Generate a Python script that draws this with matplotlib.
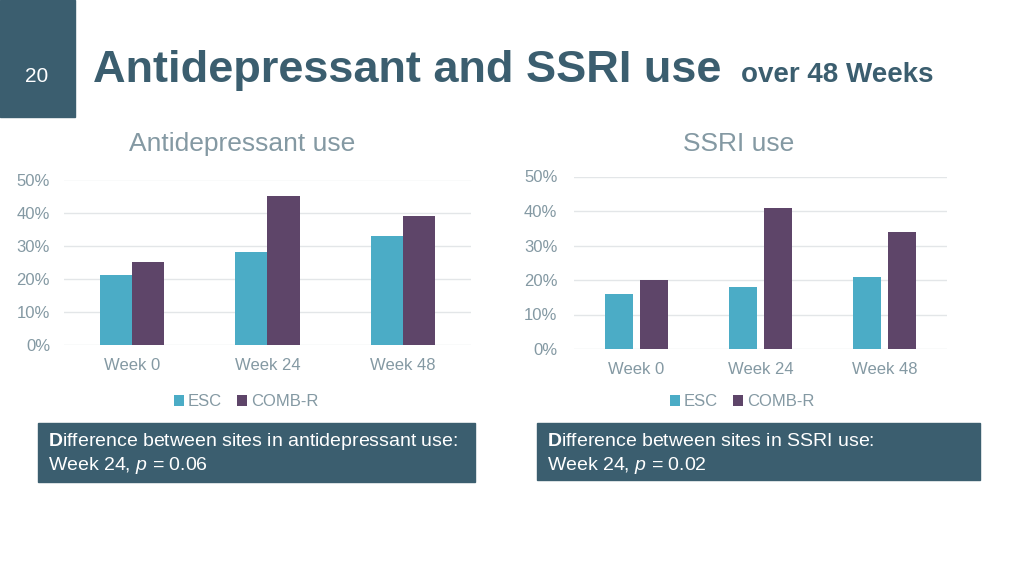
import matplotlib.pyplot as plt
import numpy as np

# data
weeks = ["Week 0", "Week 24", "Week 48"]
series = ["ESC", "COMB-R"]
anti_esc = [21, 28, 33]
anti_comb = [25, 45, 39]
ssri_esc = [16, 18, 21]
ssri_comb = [20, 41, 34]
y_ticks = [0, 10, 20, 30, 40, 50]

TEAL = "#4BACC6"
PLUM = "#5E4569"
SLATE = "#3B5E6F"
GREY = "#8499A3"

plt.rcParams["font.family"] = ["Liberation Sans", "DejaVu Sans"]
plt.rcParams["mathtext.fontset"] = "custom"
plt.rcParams["mathtext.rm"] = "Liberation Sans"
plt.rcParams["mathtext.it"] = "Liberation Sans:italic"
plt.rcParams["mathtext.bf"] = "Liberation Sans:bold"

fig = plt.figure(figsize=(10.24, 5.76), dpi=100)

# slide number block
fig.patches.append(plt.Rectangle((0, 1 - 117 / 576), 75 / 1024, 117 / 576,
                                 transform=fig.transFigure, color=SLATE))
fig.text(37 / 1024, 1 - 76 / 576, "20", color="white", fontsize=15,
         ha="center", va="center")

fig.text(93 / 1024, 1 - 82 / 576, "Antidepressant and SSRI use", color=SLATE,
         fontsize=32.5, fontweight="bold", va="baseline")
fig.text(741 / 1024, 1 - 82 / 576, "over 48 Weeks", color=SLATE,
         fontsize=20, fontweight="bold", va="baseline")


def draw(rect, esc, comb, title, title_x, bar_w, gap, ypad, leg_x):
    ax = fig.add_axes(rect)
    x = np.arange(len(weeks))
    off = bar_w / 2 + gap / 2
    ax.bar(x - off, esc, bar_w, color=TEAL, label=series[0], zorder=3)
    ax.bar(x + off, comb, bar_w, color=PLUM, label=series[1], zorder=3)
    ax.set_xlim(-0.5, len(weeks) - 0.5)
    ax.set_ylim(0, 50)
    ax.set_yticks(y_ticks)
    ax.set_yticklabels([f"{t}%" for t in y_ticks])
    ax.set_xticks(x)
    ax.set_xticklabels(weeks)
    ax.grid(axis="y", color="#E3E6E8", lw=1, zorder=0)
    for s in ax.spines.values():
        s.set_visible(False)
    ax.tick_params(length=0, colors=GREY, labelsize=12)
    ax.tick_params(axis="y", pad=ypad)
    ax.tick_params(axis="x", pad=9)
    fig.text(title_x / 1024, 1 - 144 / 576, title, color=GREY, fontsize=19,
             ha="center", va="center")
    ax.legend(loc="center", bbox_to_anchor=(leg_x / 1024, 1 - 402 / 576),
              bbox_transform=fig.transFigure, ncol=2, frameon=False,
              fontsize=12, labelcolor=GREY, handlelength=0.6,
              handleheight=0.6, handletextpad=0.25, columnspacing=0.9)
    return ax


draw([64 / 1024, 1 - 345 / 576, 407 / 1024, 165.5 / 576], anti_esc, anti_comb,
     "Antidepressant use", 242, 0.236, 0.0, 10, 246)
draw([574 / 1024, 1 - 349 / 576, 373 / 1024, 172.5 / 576], ssri_esc, ssri_comb,
     "SSRI use", 739, 0.225, 0.056, 12, 742)

# note boxes
boxes = [
    (38, 423, 437, 59, "antidepressant use:", "0.06"),
    (537, 423, 443, 57, "SSRI use:", "0.02"),
]
for bx, by, bw, bh, what, pval in boxes:
    fig.patches.append(plt.Rectangle((bx / 1024, 1 - (by + bh) / 576), bw / 1024, bh / 576,
                                     transform=fig.transFigure, color=SLATE))
    fig.text((bx + 10) / 1024, 1 - (by + 19) / 576,
             r"$\mathbf{D}$ifference between sites in " + what,
             color="white", fontsize=14, va="center")
    fig.text((bx + 10) / 1024, 1 - (by + 43) / 576,
             r"Week 24, $\mathit{p}$ = " + pval,
             color="white", fontsize=14, va="center")

fig.savefig("out.png", dpi=100)
